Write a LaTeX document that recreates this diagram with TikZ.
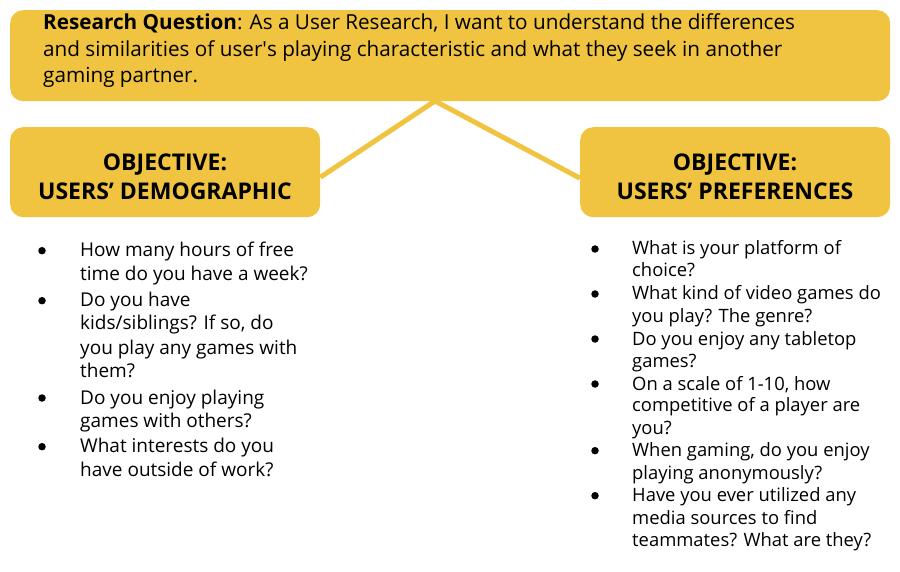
\documentclass[tikz,border=0pt]{standalone}
\usepackage{fontspec}
\setmainfont{Open Sans}
\newfontfamily\plainfont{Open Sans}
\usetikzlibrary{calc}
\definecolor{ygold}{RGB}{240,195,65}
\tikzset{
  ybox/.style={fill=ygold, rounded corners=13pt, inner sep=0pt, anchor=north west},
  link/.style={draw=ygold, line width=5pt},
  toptxt/.style={anchor=base west, inner sep=0pt, font=\fontsize{20.7}{24}\selectfont},
  objtxt/.style={anchor=base, inner sep=0pt, font=\fontsize{23}{26}\selectfont\bfseries},
  ltxt/.style={anchor=base west, inner sep=0pt, font=\fontsize{19}{22}\selectfont},
  rtxt/.style={anchor=base west, inner sep=0pt, font=\fontsize{18.4}{22}\selectfont},
  bul/.style={circle, fill=black, inner sep=0pt, minimum size=7.5pt},
}
\begin{document}
\begin{tikzpicture}[x=1pt,y=-1pt]
\useasboundingbox (0,0) rectangle (900,572);
% connectors (under the boxes)
\coordinate (apex) at (435,101);
\node (left) [ybox, minimum width=310pt, minimum height=90pt] at (10,127) {};
\node (right) [ybox, minimum width=310pt, minimum height=90pt] at (580,127) {};
\coordinate (lend) at ($(left.east)+(0,5)$);
\coordinate (rend) at ($(right.west)+(0,6)$);
\draw[link] (apex) -- (lend);
\draw[link] (apex) -- (rend);
\node (top) [ybox, minimum width=880pt, minimum height=91pt] at (10,10) {};
% top text
\node (q1) [toptxt] at (43,30) {\textbf{Research Question}: As a User Research, I want to understand the differences};
\node (q2) [toptxt] at (43,56.5) {and similarities of user{\plainfont'}s playing characteristic and what they seek in another};
\node (q3) [toptxt] at (43,83) {gaming partner.};
% objectives
\node (lo1) [objtxt] at (165,170.7) {OBJECTIVE:};
\node (lo2) [objtxt] at (165,199.3) {USERS’ DEMOGRAPHIC};
\node (ro1) [objtxt] at (735,170.7) {OBJECTIVE:};
\node (ro2) [objtxt] at (735,199.3) {USERS’ PREFERENCES};
% left list
\foreach \y/\t [count=\i] in {
  256.7/{How many hours of free},
  280.7/{time do you have a week?},
  306.7/{Do you have},
  330/{kids/siblings? If so, do},
  354/{you play any games with},
  377.3/{them?},
  404/{Do you enjoy playing},
  427.3/{games with others?},
  452.7/{What interests do you},
  476/{have outside of work?}}
  \node (l\i) [ltxt] at (80,\y) {\t};
\foreach \y [count=\i] in {256.7,306.7,404,452.7}
  \node (lb\i) [bul] at (42,\y-6) {};
% right list
\foreach \y/\t [count=\i] in {
  255/{What is your platform of},
  276.7/{choice?},
  300/{What kind of video games do},
  322.7/{you play? The genre?},
  345/{Do you enjoy any tabletop},
  367.3/{games?},
  390/{On a scale of 1-10, how},
  411.7/{competitive of a player are},
  434/{you?},
  456.7/{When gaming, do you enjoy},
  479.3/{playing anonymously?},
  501.7/{Have you ever utilized any},
  524/{media sources to find},
  546.7/{teammates? What are they?}}
  \node (r\i) [rtxt] at (632,\y) {\t};
\foreach \y [count=\i] in {255,300,345,390,456.7,501.7}
  \node (rb\i) [bul] at (595,\y-6) {};
\end{tikzpicture}
\end{document}
